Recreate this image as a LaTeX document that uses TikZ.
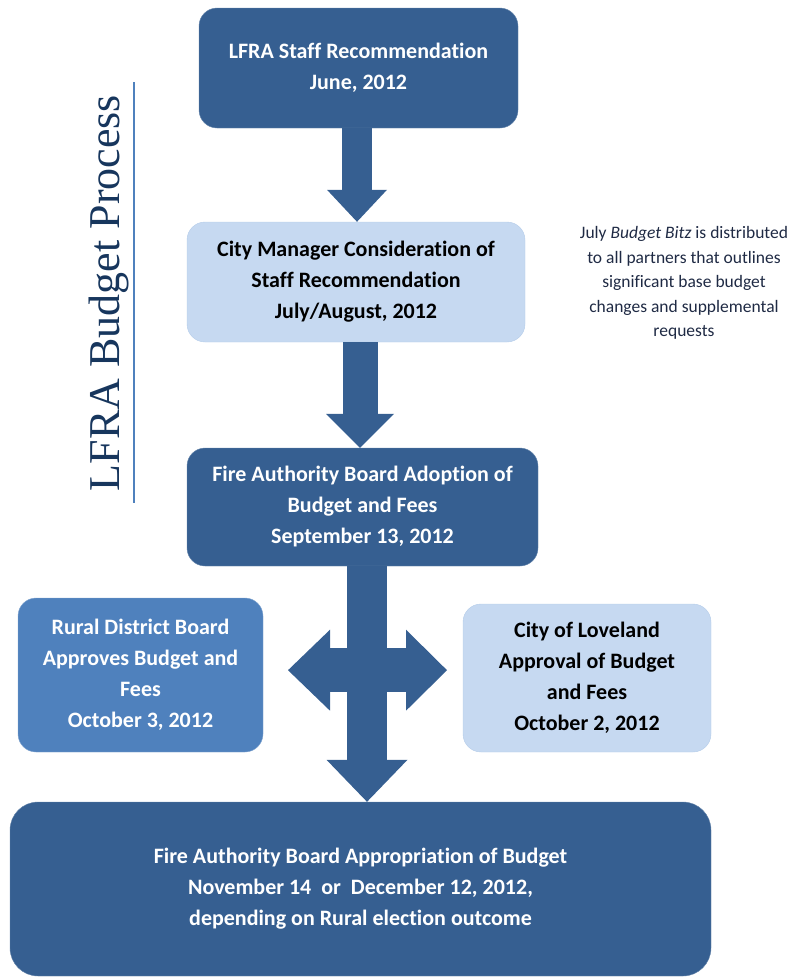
\documentclass[tikz,border=0pt]{standalone}
\usepackage{fontspec}
\setmainfont[Ligatures=NoCommon]{Carlito}
\newfontfamily\titlefont{Liberation Serif}
\usetikzlibrary{arrows.meta,positioning,calc}
\definecolor{darkBlue}{HTML}{365F91}
\definecolor{midBlue}{HTML}{4F81BD}
\definecolor{lightBlue}{HTML}{C6D9F1}
\definecolor{titleColor}{HTML}{17365D}
\definecolor{noteColor}{HTML}{1F2A44}
\tikzset{
	box/.style={rounded corners=18pt, inner sep=0, align=center,
		font=\bfseries\fontsize{22}{31}\selectfont},
	darkbox/.style={box, fill=darkBlue, draw=darkBlue!75!white, text=white},
	midbox/.style={box, fill=midBlue, draw=midBlue!70!white, text=white},
	lightbox/.style={box, fill=lightBlue, draw=lightBlue!85!midBlue, text=black},
	blockarrow/.style={draw=darkBlue, line width=#1},
}

\begin{document}
\begin{tikzpicture}[x=1pt, y=-1pt]
	\useasboundingbox (0,0) rectangle (806,977);
	
	% title
	\node[anchor=base, rotate=90, inner sep=0, text=titleColor,
		font=\titlefont\fontsize{44}{44}\selectfont] (title) at (119,293) {LFRA Budget Process};
	\coordinate (ruleTop) at (134,82);
	\coordinate (ruleBot) at (134,503);
	\draw[midBlue, line width=2pt] (ruleTop) -- (ruleBot);
	
	% boxes
	\node[darkbox, minimum width=319pt, minimum height=120pt] (staff) at (358.5,68) {LFRA Staff Recommendation\\June, 2012};
	\node[lightbox, minimum width=338pt, minimum height=120pt] (city) at (356,282) {City Manager Consideration of\\Staff Recommendation\\July/August, 2012};
	\node[darkbox, minimum width=351pt, minimum height=118pt] (adopt) at (362.5,507) {Fire Authority Board Adoption of\\Budget and Fees\\September 13, 2012};
	\node[midbox, minimum width=245pt, minimum height=154pt] (rural) at (140.5,675) {Rural District Board\\Approves Budget and\\Fees\\October 3, 2012};
	\node[lightbox, minimum width=248pt, minimum height=148pt] (loveland) at (587,678) {City of Loveland\\Approval of Budget\\and Fees\\October 2, 2012};
	\node[darkbox, rounded corners=28pt, minimum width=701pt, minimum height=174pt] (approp) at (360.5,889) {Fire Authority Board Appropriation of Budget\\November 14~~or~~December 12, 2012,\\depending on Rural election outcome};
	
	% note
	\node[align=center, inner sep=0, text=noteColor, font=\fontsize{17.5}{24.5}\selectfont] (note) at (684,283) {July \emph{Budget Bitz} is distributed\\to all partners that outlines\\significant base budget\\changes and supplemental\\requests};
	
	% arrows
	\draw[blockarrow=30pt, -{Triangle[width=60pt, length=32pt, line width=0pt]}] ([xshift=-1.5pt]staff.south) -- ([xshift=-1.5pt]staff.south |- city.north);
	\draw[blockarrow=35pt, -{Triangle[width=68pt, length=34pt, line width=0pt]}] ([xshift=4pt]city.south) -- ([xshift=4pt]city.south |- adopt.north);
	\coordinate (cross) at ($(adopt.south)+(4.5,104)$);
	\draw[blockarrow=44pt, {Triangle[width=81pt, length=42pt, line width=0pt]}-{Triangle[width=81pt, length=41pt, line width=0pt]}] ([xshift=-79pt]cross) -- ([xshift=80pt]cross);
	\draw[blockarrow=40pt, -{Triangle[width=81pt, length=42pt, line width=0pt]}] ([xshift=4.5pt]adopt.south) -- ([xshift=4.5pt]adopt.south |- approp.north);
\end{tikzpicture}
\end{document}
